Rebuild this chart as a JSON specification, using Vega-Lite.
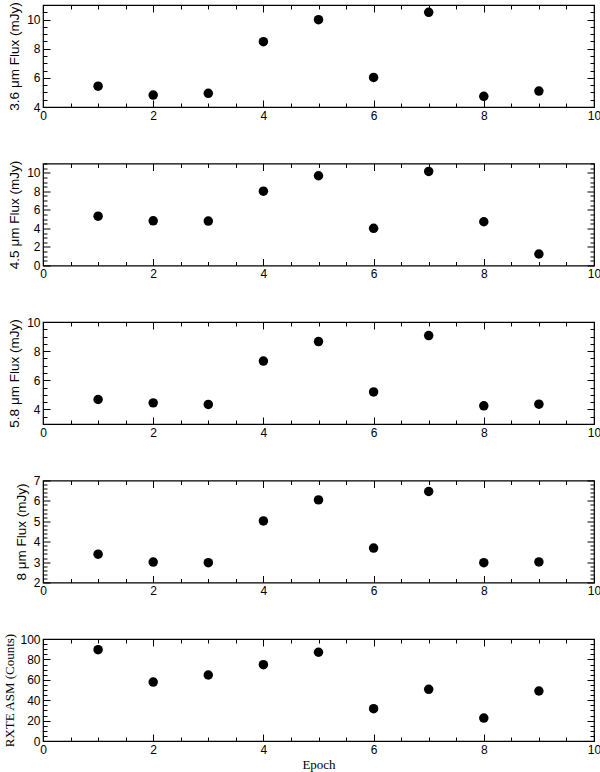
{
  "$schema": "https://vega.github.io/schema/vega-lite/v6.json",
  "padding": {"left": 3, "top": 1, "right": 0, "bottom": 0},
  "background": "white",
  "spacing": 56.5,
  "bounds": "flush",
  "config": {
    "view": {"stroke": "black", "strokeWidth": 1.2},
    "axis": {"domain": false, "grid": false, "tickColor": "black", "tickWidth": 1, "labelColor": "black", "labelFont": "Liberation Sans", "labelFontSize": 12, "titleColor": "black", "titleFont": "Liberation Sans", "titleFontSize": 13.5, "titleFontWeight": "normal", "labelPadding": 10, "labelFlush": false, "labelOverlap": false},
    "point": {"filled": true, "color": "black", "size": 90, "opacity": 1}
  },
  "datasets": {
    "obs": [
      {"epoch": 1, "f36": 5.43, "f45": 5.32, "f58": 4.68, "f8": 3.39, "asm": 89.5},
      {"epoch": 2, "f36": 4.82, "f45": 4.82, "f58": 4.45, "f8": 3.0, "asm": 57.8},
      {"epoch": 3, "f36": 4.94, "f45": 4.79, "f58": 4.34, "f8": 2.97, "asm": 64.7},
      {"epoch": 4, "f36": 8.48, "f45": 8.01, "f58": 7.32, "f8": 5.02, "asm": 74.8},
      {"epoch": 5, "f36": 9.99, "f45": 9.68, "f58": 8.66, "f8": 6.05, "asm": 87.0},
      {"epoch": 6, "f36": 6.03, "f45": 4.01, "f58": 5.2, "f8": 3.69, "asm": 31.7},
      {"epoch": 7, "f36": 10.5, "f45": 10.14, "f58": 9.07, "f8": 6.46, "asm": 50.7},
      {"epoch": 8, "f36": 4.73, "f45": 4.72, "f58": 4.25, "f8": 2.97, "asm": 22.5},
      {"epoch": 9, "f36": 5.09, "f45": 1.24, "f58": 4.36, "f8": 3.01, "asm": 49.0}
    ]
  },
  "vconcat": [
    {
      "width": 551, "height": 102,
      "data": {"name": "obs"},
      "resolve": {"axis": {"x": "independent", "y": "independent"}},
      "layer": [
        {"mark": "point",
         "encoding": {
           "x": {"field": "epoch", "type": "quantitative", "scale": {"domain": [0, 10], "nice": false}, "axis": {"orient": "bottom", "values": [0,2,4,6,8,10], "tickSize": -7, "title": null}},
           "y": {"field": "f36", "type": "quantitative", "scale": {"domain": [4, 11], "nice": false, "zero": false}, "axis": {"orient": "left", "values": [4,6,8,10], "tickSize": -7, "title": "3.6 μm Flux (mJy)", "titlePadding": 5}}}},
        {"mark": {"type": "point", "opacity": 0},
         "encoding": {
           "x": {"field": "epoch", "type": "quantitative", "axis": {"orient": "bottom", "values": [0.5,1,1.5,2.5,3,3.5,4.5,5,5.5,6.5,7,7.5,8.5,9,9.5], "tickSize": -4, "labels": false, "title": null}},
           "y": {"field": "f36", "type": "quantitative", "axis": {"orient": "left", "values": [4.5,5,5.5,6.5,7,7.5,8.5,9,9.5,10.5,11], "tickSize": -4, "labels": false, "title": null}}}},
        {"mark": {"type": "point", "opacity": 0},
         "encoding": {
           "x": {"field": "epoch", "type": "quantitative", "axis": {"orient": "top", "values": [0,2,4,6,8,10], "tickSize": -7, "labels": false, "title": null}},
           "y": {"field": "f36", "type": "quantitative", "axis": {"orient": "right", "values": [4,6,8,10], "tickSize": -7, "labels": false, "title": null}}}},
        {"mark": {"type": "point", "opacity": 0},
         "encoding": {
           "x": {"field": "epoch", "type": "quantitative", "axis": {"orient": "top", "values": [0.5,1,1.5,2.5,3,3.5,4.5,5,5.5,6.5,7,7.5,8.5,9,9.5], "tickSize": -4, "labels": false, "title": null}},
           "y": {"field": "f36", "type": "quantitative", "axis": {"orient": "right", "values": [4.5,5,5.5,6.5,7,7.5,8.5,9,9.5,10.5,11], "tickSize": -4, "labels": false, "title": null}}}}
      ]
    },
    {
      "width": 551, "height": 102,
      "data": {"name": "obs"},
      "resolve": {"axis": {"x": "independent", "y": "independent"}},
      "layer": [
        {"mark": "point",
         "encoding": {
           "x": {"field": "epoch", "type": "quantitative", "scale": {"domain": [0, 10], "nice": false}, "axis": {"orient": "bottom", "values": [0,2,4,6,8,10], "tickSize": -7, "title": null}},
           "y": {"field": "f45", "type": "quantitative", "scale": {"domain": [0, 11], "nice": false, "zero": false}, "axis": {"orient": "left", "values": [0,2,4,6,8,10], "tickSize": -7, "title": "4.5 μm Flux (mJy)", "titlePadding": 5}}}},
        {"mark": {"type": "point", "opacity": 0},
         "encoding": {
           "x": {"field": "epoch", "type": "quantitative", "axis": {"orient": "bottom", "values": [0.5,1,1.5,2.5,3,3.5,4.5,5,5.5,6.5,7,7.5,8.5,9,9.5], "tickSize": -4, "labels": false, "title": null}},
           "y": {"field": "f45", "type": "quantitative", "axis": {"orient": "left", "values": [0.5,1,1.5,2.5,3,3.5,4.5,5,5.5,6.5,7,7.5,8.5,9,9.5,10.5,11], "tickSize": -4, "labels": false, "title": null}}}},
        {"mark": {"type": "point", "opacity": 0},
         "encoding": {
           "x": {"field": "epoch", "type": "quantitative", "axis": {"orient": "top", "values": [0,2,4,6,8,10], "tickSize": -7, "labels": false, "title": null}},
           "y": {"field": "f45", "type": "quantitative", "axis": {"orient": "right", "values": [0,2,4,6,8,10], "tickSize": -7, "labels": false, "title": null}}}},
        {"mark": {"type": "point", "opacity": 0},
         "encoding": {
           "x": {"field": "epoch", "type": "quantitative", "axis": {"orient": "top", "values": [0.5,1,1.5,2.5,3,3.5,4.5,5,5.5,6.5,7,7.5,8.5,9,9.5], "tickSize": -4, "labels": false, "title": null}},
           "y": {"field": "f45", "type": "quantitative", "axis": {"orient": "right", "values": [0.5,1,1.5,2.5,3,3.5,4.5,5,5.5,6.5,7,7.5,8.5,9,9.5,10.5,11], "tickSize": -4, "labels": false, "title": null}}}}
      ]
    },
    {
      "width": 551, "height": 102,
      "data": {"name": "obs"},
      "resolve": {"axis": {"x": "independent", "y": "independent"}},
      "layer": [
        {"mark": "point",
         "encoding": {
           "x": {"field": "epoch", "type": "quantitative", "scale": {"domain": [0, 10], "nice": false}, "axis": {"orient": "bottom", "values": [0,2,4,6,8,10], "tickSize": -7, "title": null}},
           "y": {"field": "f58", "type": "quantitative", "scale": {"domain": [3, 10], "nice": false, "zero": false}, "axis": {"orient": "left", "values": [4,6,8,10], "tickSize": -7, "title": "5.8 μm Flux (mJy)", "titlePadding": 5}}}},
        {"mark": {"type": "point", "opacity": 0},
         "encoding": {
           "x": {"field": "epoch", "type": "quantitative", "axis": {"orient": "bottom", "values": [0.5,1,1.5,2.5,3,3.5,4.5,5,5.5,6.5,7,7.5,8.5,9,9.5], "tickSize": -4, "labels": false, "title": null}},
           "y": {"field": "f58", "type": "quantitative", "axis": {"orient": "left", "values": [3,3.5,4.5,5,5.5,6.5,7,7.5,8.5,9,9.5], "tickSize": -4, "labels": false, "title": null}}}},
        {"mark": {"type": "point", "opacity": 0},
         "encoding": {
           "x": {"field": "epoch", "type": "quantitative", "axis": {"orient": "top", "values": [0,2,4,6,8,10], "tickSize": -7, "labels": false, "title": null}},
           "y": {"field": "f58", "type": "quantitative", "axis": {"orient": "right", "values": [4,6,8,10], "tickSize": -7, "labels": false, "title": null}}}},
        {"mark": {"type": "point", "opacity": 0},
         "encoding": {
           "x": {"field": "epoch", "type": "quantitative", "axis": {"orient": "top", "values": [0.5,1,1.5,2.5,3,3.5,4.5,5,5.5,6.5,7,7.5,8.5,9,9.5], "tickSize": -4, "labels": false, "title": null}},
           "y": {"field": "f58", "type": "quantitative", "axis": {"orient": "right", "values": [3,3.5,4.5,5,5.5,6.5,7,7.5,8.5,9,9.5], "tickSize": -4, "labels": false, "title": null}}}}
      ]
    },
    {
      "width": 551, "height": 102,
      "data": {"name": "obs"},
      "resolve": {"axis": {"x": "independent", "y": "independent"}},
      "layer": [
        {"mark": "point",
         "encoding": {
           "x": {"field": "epoch", "type": "quantitative", "scale": {"domain": [0, 10], "nice": false}, "axis": {"orient": "bottom", "values": [0,2,4,6,8,10], "tickSize": -7, "title": null}},
           "y": {"field": "f8", "type": "quantitative", "scale": {"domain": [2, 7], "nice": false, "zero": false}, "axis": {"orient": "left", "values": [2,3,4,5,6,7], "tickSize": -7, "title": "8  μm Flux (mJy)", "titlePadding": 5}}}},
        {"mark": {"type": "point", "opacity": 0},
         "encoding": {
           "x": {"field": "epoch", "type": "quantitative", "axis": {"orient": "bottom", "values": [0.5,1,1.5,2.5,3,3.5,4.5,5,5.5,6.5,7,7.5,8.5,9,9.5], "tickSize": -4, "labels": false, "title": null}},
           "y": {"field": "f8", "type": "quantitative", "axis": {"orient": "left", "values": [2.2,2.4,2.6,2.8,3.2,3.4,3.6,3.8,4.2,4.4,4.6,4.8,5.2,5.4,5.6,5.8,6.2,6.4,6.6,6.8], "tickSize": -4, "labels": false, "title": null}}}},
        {"mark": {"type": "point", "opacity": 0},
         "encoding": {
           "x": {"field": "epoch", "type": "quantitative", "axis": {"orient": "top", "values": [0,2,4,6,8,10], "tickSize": -7, "labels": false, "title": null}},
           "y": {"field": "f8", "type": "quantitative", "axis": {"orient": "right", "values": [2,3,4,5,6,7], "tickSize": -7, "labels": false, "title": null}}}},
        {"mark": {"type": "point", "opacity": 0},
         "encoding": {
           "x": {"field": "epoch", "type": "quantitative", "axis": {"orient": "top", "values": [0.5,1,1.5,2.5,3,3.5,4.5,5,5.5,6.5,7,7.5,8.5,9,9.5], "tickSize": -4, "labels": false, "title": null}},
           "y": {"field": "f8", "type": "quantitative", "axis": {"orient": "right", "values": [2.2,2.4,2.6,2.8,3.2,3.4,3.6,3.8,4.2,4.4,4.6,4.8,5.2,5.4,5.6,5.8,6.2,6.4,6.6,6.8], "tickSize": -4, "labels": false, "title": null}}}}
      ]
    },
    {
      "width": 551, "height": 102,
      "data": {"name": "obs"},
      "resolve": {"axis": {"x": "independent", "y": "independent"}},
      "layer": [
        {"mark": "point",
         "encoding": {
           "x": {"field": "epoch", "type": "quantitative", "scale": {"domain": [0, 10], "nice": false}, "axis": {"orient": "bottom", "values": [0,2,4,6,8,10], "tickSize": -7, "title": "Epoch", "titleFont": "Liberation Serif", "titleFontSize": 13, "titlePadding": 3}},
           "y": {"field": "asm", "type": "quantitative", "scale": {"domain": [0, 100], "nice": false}, "axis": {"orient": "left", "values": [0,20,40,60,80,100], "tickSize": -7, "title": "RXTE ASM (Counts)", "titleFont": "Liberation Serif", "titleFontSize": 13, "titlePadding": 3}}}},
        {"mark": {"type": "point", "opacity": 0},
         "encoding": {
           "x": {"field": "epoch", "type": "quantitative", "axis": {"orient": "bottom", "values": [0.5,1,1.5,2.5,3,3.5,4.5,5,5.5,6.5,7,7.5,8.5,9,9.5], "tickSize": -4, "labels": false, "title": null}},
           "y": {"field": "asm", "type": "quantitative", "axis": {"orient": "left", "values": [5,10,15,25,30,35,45,50,55,65,70,75,85,90,95], "tickSize": -4, "labels": false, "title": null}}}},
        {"mark": {"type": "point", "opacity": 0},
         "encoding": {
           "x": {"field": "epoch", "type": "quantitative", "axis": {"orient": "top", "values": [0,2,4,6,8,10], "tickSize": -7, "labels": false, "title": null}},
           "y": {"field": "asm", "type": "quantitative", "axis": {"orient": "right", "values": [0,20,40,60,80,100], "tickSize": -7, "labels": false, "title": null}}}},
        {"mark": {"type": "point", "opacity": 0},
         "encoding": {
           "x": {"field": "epoch", "type": "quantitative", "axis": {"orient": "top", "values": [0.5,1,1.5,2.5,3,3.5,4.5,5,5.5,6.5,7,7.5,8.5,9,9.5], "tickSize": -4, "labels": false, "title": null}},
           "y": {"field": "asm", "type": "quantitative", "axis": {"orient": "right", "values": [5,10,15,25,30,35,45,50,55,65,70,75,85,90,95], "tickSize": -4, "labels": false, "title": null}}}}
      ]
    }
  ]
}
